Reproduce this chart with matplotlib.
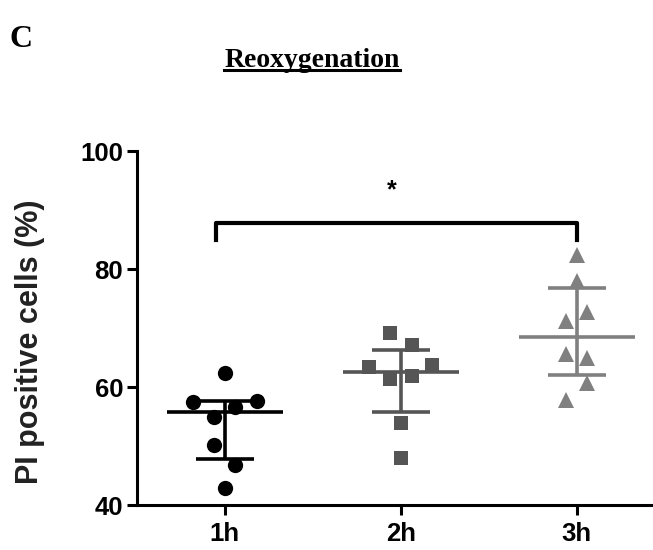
import matplotlib
matplotlib.use("Agg")
import matplotlib.pyplot as plt
from matplotlib.lines import Line2D

# ---------------------------------------------------------------------------
# data
# ---------------------------------------------------------------------------
groups = ["1h", "2h", "3h"]

vals_1h = [62.4, 57.5, 57.6, 56.6, 54.9, 50.2, 46.8, 42.9]
vals_2h = [69.2, 67.1, 63.4, 63.7, 61.4, 61.9, 53.9, 47.9]
vals_3h = [82.4, 78.0, 72.7, 71.2, 65.6, 64.9, 60.7, 57.8]

# horizontal scatter spread of the dots (as drawn by the original software)
spread_1h = [0.0, -0.18, 0.185, 0.06, -0.06, -0.06, 0.06, 0.0]
spread_2h = [-0.06, 0.065, -0.18, 0.18, -0.06, 0.065, 0.0, 0.0]
spread_3h = [0.0, 0.0, 0.06, -0.06, -0.06, 0.06, 0.06, -0.06]

medians = [55.8, 62.5, 68.5]
q_low = [47.8, 55.8, 62.0]
q_high = [57.6, 66.3, 76.8]

yticks = [40, 60, 80, 100]

# ---------------------------------------------------------------------------
# figure
# ---------------------------------------------------------------------------
plt.rcParams['font.family'] = ['Liberation Sans', 'DejaVu Sans']

fig = plt.figure(figsize=(6.53, 5.5), dpi=100)
ax = fig.add_axes([0.2098, 0.0818, 0.7902, 0.6436])

colors = ['#000000', '#555555', '#808080']
markers = ['o', 's', '^']
msizes = [11, 10.5, 11]

all_vals = [vals_1h, vals_2h, vals_3h]
all_spread = [spread_1h, spread_2h, spread_3h]

for i, (v, s) in enumerate(zip(all_vals, all_spread)):
    xc = i + 1
    ax.plot([xc + d for d in s], v, linestyle='none', marker=markers[i],
            markersize=msizes[i], color=colors[i], markeredgewidth=0, zorder=3)
    # median line
    ax.plot([xc - 0.33, xc + 0.33], [medians[i], medians[i]],
            color=colors[i], lw=2.6, solid_capstyle='butt', zorder=4)
    # interquartile range
    ax.plot([xc, xc], [q_low[i], q_high[i]], color=colors[i], lw=2.6,
            solid_capstyle='butt', zorder=4)
    for q in (q_low[i], q_high[i]):
        ax.plot([xc - 0.165, xc + 0.165], [q, q], color=colors[i], lw=2.6,
                solid_capstyle='butt', zorder=4)

# significance bracket 1h vs 3h
ax.plot([0.95, 0.95, 3.0, 3.0], [85.0, 87.8, 87.8, 85.0], color='black',
        lw=3, solid_joinstyle='round', clip_on=False)
ax.text(1.95, 93.4, '*', ha='center', va='center', fontsize=18,
        fontweight='bold')

ax.set_xlim(0.5, 3.435)
ax.set_ylim(40, 100)
ax.set_xticks([1, 2, 3])
ax.set_xticklabels(groups, fontsize=18.5, fontweight='bold')
ax.set_yticks(yticks)
ax.set_yticklabels([str(t) for t in yticks], fontsize=18.5, fontweight='bold')
ax.tick_params(axis='both', width=2.2, length=7)
ax.tick_params(axis='x', pad=5)
ax.tick_params(axis='y', pad=3)
ax.set_ylabel('PI positive cells (%)', fontsize=22, fontweight='bold',
              color='#222222')
ax.yaxis.set_label_coords(-0.178, 0.46)

for side in ['top', 'right']:
    ax.spines[side].set_visible(False)
for side in ['left', 'bottom']:
    ax.spines[side].set_linewidth(2.2)

# panel letter and underlined title
fig.text(0.014, 0.915, 'C', fontsize=23, fontweight='bold',
         family='Liberation Serif', ha='left', va='baseline')
title = fig.text(0.478, 0.878, 'Reoxygenation', fontsize=20,
                 fontweight='bold', family='Liberation Serif',
                 ha='center', va='baseline')

renderer = fig.canvas.get_renderer()
bb = title.get_window_extent(renderer=renderer).transformed(fig.transFigure.inverted())
fig.add_artist(Line2D([bb.x0, bb.x1], [0.872, 0.872], color='black', lw=2.2,
                      transform=fig.transFigure))

fig.savefig('out.png', dpi=100)
